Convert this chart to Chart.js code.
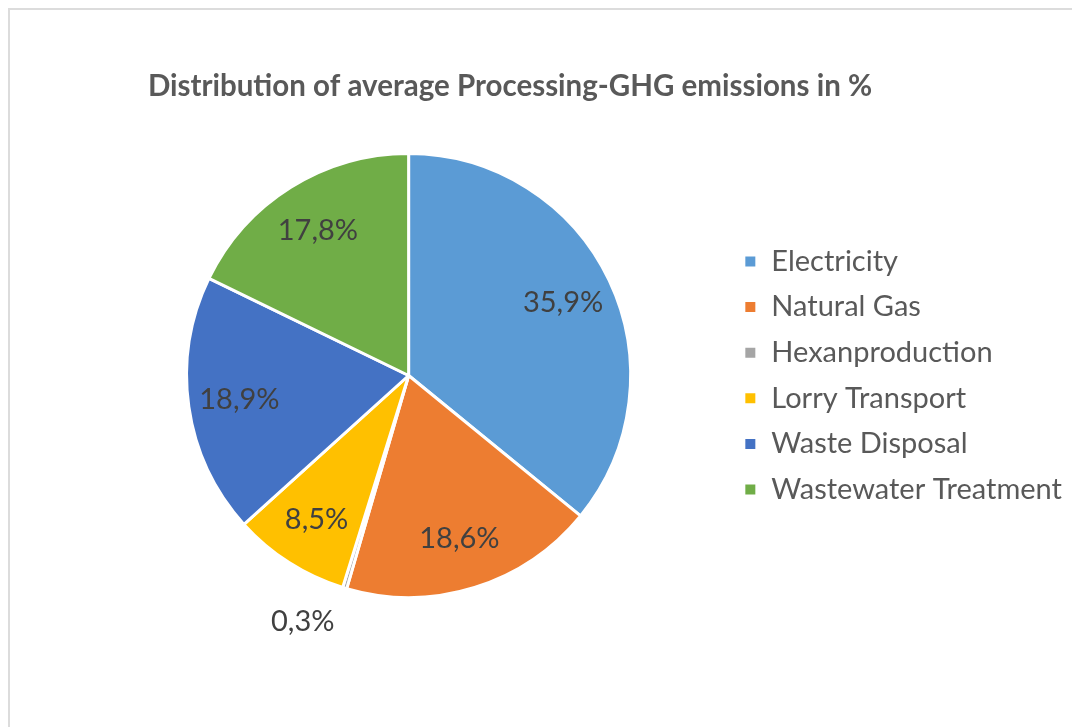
<!DOCTYPE html>
<html>
<head>
<meta charset="utf-8">
<script src="https://cdn.jsdelivr.net/npm/chart.js@4.4.1/dist/chart.umd.min.js"></script>
<style>
    html, body { margin: 0; padding: 0; background: #fff; overflow: hidden; }
    .frame {
        position: absolute; left: 8px; top: 8px;
        width: 1200px; height: 800px;
        border: 2px solid #dcdcdc;
    }
    .chart-box { position: absolute; left: 0; top: 0; width: 1072px; height: 727px; }
</style>
</head>
<body>
<div class="frame"></div>
<div class="chart-box"><canvas id="pieChart"></canvas></div>
<script>
// Datos del gráfico
const chartTitle = 'Distribution of average Processing-GHG emissions in %';
const categories = ['Electricity', 'Natural Gas', 'Hexanproduction', 'Lorry Transport', 'Waste Disposal', 'Wastewater Treatment'];
const shares = [35.9, 18.6, 0.3, 8.5, 18.9, 17.8];
const sliceColors = ['#5B9BD5', '#ED7D31', '#A5A5A5', '#FFC000', '#4472C4', '#70AD47'];

const FONT = 'Lato, "Open Sans", sans-serif';

// Título centrado sobre todo el gráfico (como en Excel)
const titlePlugin = {
    id: 'excelTitle',
    afterDraw(chart) {
        const ctx = chart.ctx;
        ctx.save();
        ctx.font = 'bold 29.5px ' + FONT;
        ctx.fillStyle = '#595959';
        ctx.textAlign = 'center';
        ctx.textBaseline = 'middle';
        ctx.fillText(chartTitle, 510, 86);
        ctx.restore();
    }
};

// Etiquetas de porcentaje sobre cada sector
const sliceLabels = {
    id: 'sliceLabels',
    afterDatasetsDraw(chart) {
        const ctx = chart.ctx;
        const meta = chart.getDatasetMeta(0);
        ctx.save();
        ctx.font = '29px ' + FONT;
        ctx.fillStyle = '#404040';
        ctx.textBaseline = 'middle';
        meta.data.forEach((arc, i) => {
            const p = arc.getProps(['x', 'y', 'startAngle', 'endAngle', 'outerRadius'], true);
            const mid = (p.startAngle + p.endAngle) / 2;
            const small = shares[i] < 2;
            const r = p.outerRadius * (small ? 1.16 : 0.77);
            const x = p.x + Math.cos(mid) * r;
            const y = p.y + Math.sin(mid) * r;
            if (small) {
                ctx.textAlign = Math.cos(mid) < 0 ? 'right' : 'left';
            } else {
                ctx.textAlign = 'center';
            }
            ctx.fillText(shares[i].toFixed(1).replace('.', ',') + '%', x, y);
        });
        ctx.restore();
    }
};

const ctx = document.getElementById('pieChart').getContext('2d');
window.pieChart = new Chart(ctx, {
    type: 'pie',
    data: {
        labels: categories,
        datasets: [{
            data: shares,
            backgroundColor: sliceColors,
            borderColor: '#ffffff',
            borderWidth: 3
        }]
    },
    options: {
        responsive: true,
        maintainAspectRatio: false,
        animation: false,
        layout: {
            padding: { top: 152, left: 90, right: 0, bottom: 128 }
        },
        plugins: {
            legend: {
                position: 'right',
                fullSize: false,
                labels: {
                    color: '#595959',
                    boxWidth: 13,
                    boxHeight: 13,
                    padding: 16.6,
                    font: { family: FONT, size: 29 }
                }
            },
            tooltip: { enabled: false }
        }
    },
    plugins: [sliceLabels, titlePlugin]
});
</script>
</body>
</html>
